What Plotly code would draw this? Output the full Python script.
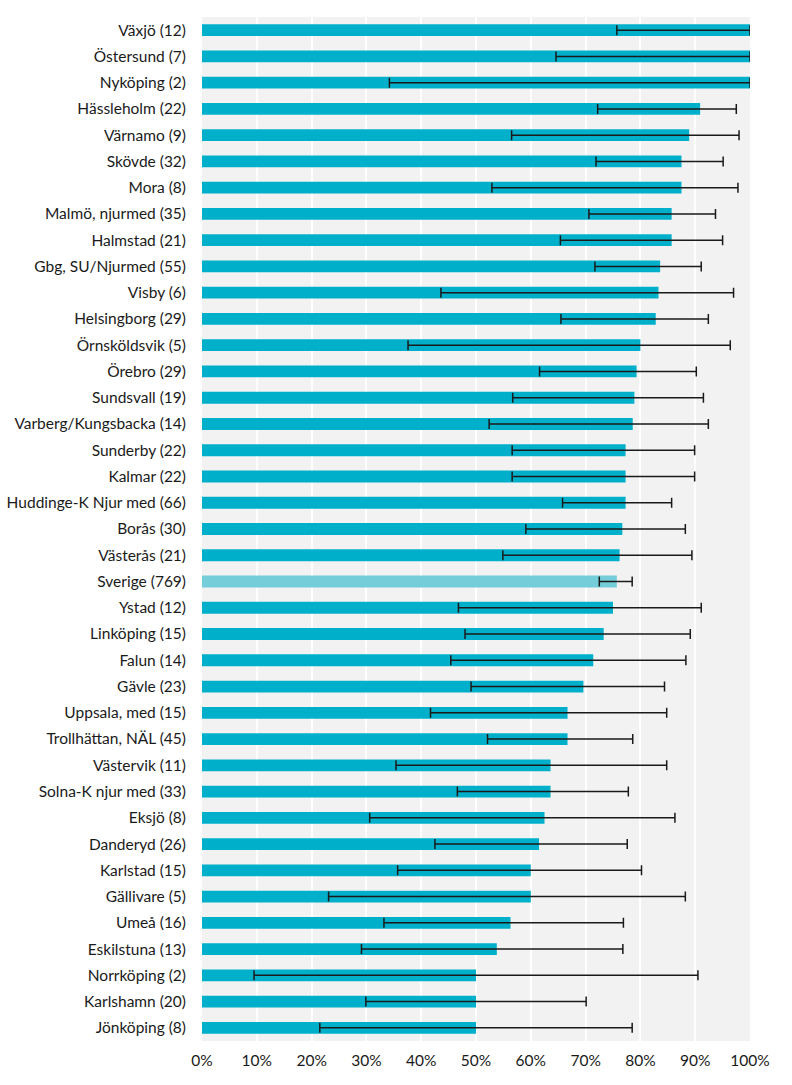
import plotly.graph_objects as go

categories = [
    "Växjö (12)", "Östersund (7)", "Nyköping (2)", "Hässleholm (22)", "Värnamo (9)",
    "Skövde (32)", "Mora (8)", "Malmö, njurmed (35)", "Halmstad (21)", "Gbg, SU/Njurmed (55)",
    "Visby (6)", "Helsingborg (29)", "Örnsköldsvik (5)", "Örebro (29)", "Sundsvall (19)",
    "Varberg/Kungsbacka (14)", "Sunderby (22)", "Kalmar (22)", "Huddinge-K Njur med (66)",
    "Borås (30)", "Västerås (21)", "Sverige (769)", "Ystad (12)", "Linköping (15)",
    "Falun (14)", "Gävle (23)", "Uppsala, med (15)", "Trollhättan, NÄL (45)",
    "Västervik (11)", "Solna-K njur med (33)", "Eksjö (8)", "Danderyd (26)",
    "Karlstad (15)", "Gällivare (5)", "Umeå (16)", "Eskilstuna (13)", "Norrköping (2)",
    "Karlshamn (20)", "Jönköping (8)",
]

values = [
    100.0, 100.0, 100.0, 90.9, 88.9,
    87.5, 87.5, 85.7, 85.7, 83.6,
    83.3, 82.8, 80.0, 79.3, 78.9,
    78.6, 77.3, 77.3, 77.3,
    76.7, 76.2, 75.7, 75.0, 73.3,
    71.4, 69.6, 66.7, 66.7,
    63.6, 63.6, 62.5, 61.5,
    60.0, 60.0, 56.3, 53.8, 50.0,
    50.0, 50.0,
]

lower = [
    75.7, 64.6, 34.2, 72.2, 56.5,
    71.9, 52.9, 70.6, 65.4, 71.7,
    43.6, 65.5, 37.6, 61.6, 56.7,
    52.4, 56.6, 56.6, 65.8,
    59.1, 54.9, 72.5, 46.8, 48.0,
    45.4, 49.1, 41.7, 52.1,
    35.4, 46.6, 30.6, 42.5,
    35.7, 23.1, 33.2, 29.1, 9.5,
    29.9, 21.5,
]

upper = [
    100.0, 100.0, 100.0, 97.5, 98.0,
    95.1, 97.8, 93.7, 95.0, 91.1,
    97.0, 92.4, 96.4, 90.2, 91.5,
    92.4, 89.9, 89.9, 85.7,
    88.2, 89.4, 78.5, 91.1, 89.1,
    88.3, 84.4, 84.8, 78.6,
    84.8, 77.8, 86.3, 77.6,
    80.2, 88.2, 76.9, 76.8, 90.5,
    70.1, 78.5,
]

tick_values = [0, 10, 20, 30, 40, 50, 60, 70, 80, 90, 100]
tick_labels = ["0%", "10%", "20%", "30%", "40%", "50%", "60%", "70%", "80%", "90%", "100%"]

highlight = "Sverige (769)"
bar_color = "#00b0ca"
highlight_color = "#74cdd9"
colors = [highlight_color if c == highlight else bar_color for c in categories]

err_plus = [u - v for u, v in zip(upper, values)]
err_minus = [v - l for v, l in zip(values, lower)]

fig = go.Figure(
    go.Bar(
        x=values,
        y=categories,
        orientation="h",
        width=0.45,
        marker=dict(color=colors, line=dict(width=0)),
        error_x=dict(
            type="data",
            symmetric=False,
            array=err_plus,
            arrayminus=err_minus,
            color="#1a1a1a",
            thickness=1.5,
            width=5,
        ),
        hoverinfo="x+y",
    )
)

fig.update_layout(
    width=792,
    height=1085,
    margin=dict(l=202, r=42, t=17, b=44),
    paper_bgcolor="white",
    plot_bgcolor="#f2f2f2",
    font=dict(family="Lato, Carlito, Calibri, sans-serif", size=15.5, color="#1a1a1a"),
    showlegend=False,
)

fig.update_xaxes(
    range=[0, 100],
    tickmode="array",
    tickvals=tick_values,
    ticktext=tick_labels,
    showgrid=True,
    gridcolor="white",
    gridwidth=2,
    zeroline=False,
    showline=False,
    ticks="",
    ticklabelstandoff=8,
    automargin=False,
    fixedrange=True,
)

fig.update_yaxes(
    categoryorder="array",
    categoryarray=categories,
    autorange="reversed",
    showgrid=False,
    zeroline=False,
    showline=False,
    ticks="",
    ticklabelstandoff=15,
    automargin=False,
    fixedrange=True,
)

fig.write_html("out.html")
